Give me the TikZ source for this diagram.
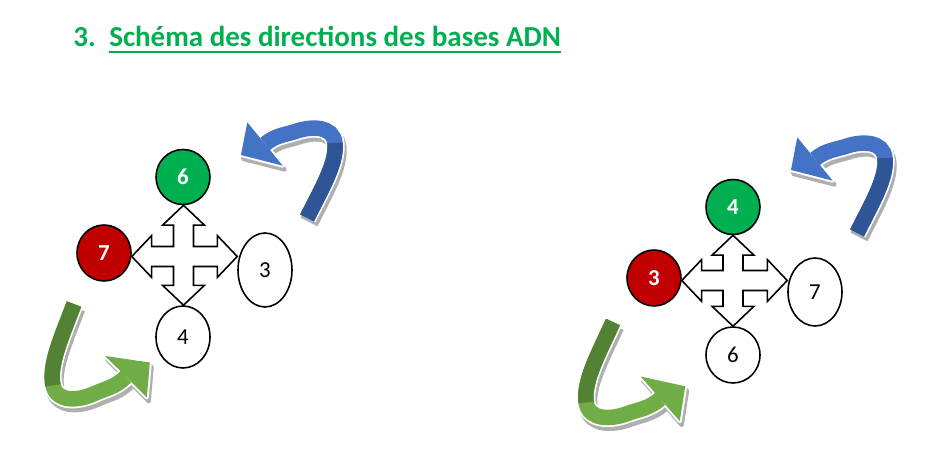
\documentclass[tikz,border=0pt]{standalone}
\usepackage{fontspec}
\setmainfont{Carlito}
\usetikzlibrary{shapes.geometric,calc}

\definecolor{okgreen}{RGB}{0,176,80}
\definecolor{okred}{RGB}{192,0,0}
\definecolor{blueA}{RGB}{68,114,196}
\definecolor{blueB}{RGB}{47,85,151}
\definecolor{greenA}{RGB}{112,173,71}
\definecolor{greenB}{RGB}{84,130,53}
\definecolor{shadowgray}{RGB}{175,175,175}

% sizes of the four-way arrow
\newcommand{\qshaft}{5.7pt}
\newcommand{\qhead}{11.9pt}
\newcommand{\qlen}{11.3pt}

\tikzset{
    bandline/.style={insert path={(0,0) .. controls (15,-30) and (30,-55) .. (28,-75) .. controls (26,-92) and (5,-92) .. (-10,-87) .. controls (-22,-83) and (-31,-83) .. (-42,-74)}},
    bandlow/.style={insert path={(0,0) .. controls (15,-30) and (30,-55) .. (28,-75)}},
    bandhead/.style={insert path={(-24.3,-52.3) -- (-66,-63) -- (-59.7,-95.7) -- cycle}}
}

% curved arrow: tail position, transform, light colour, dark colour
\newcommand{\bentarrow}[4]{%
  \begin{scope}[shift={(#1)}, shift={(2,4)}, #2]
    \draw[shadowgray, line width=0.38cm, bandline];
    \filldraw[shadowgray, line width=0.08cm, line join=round, bandhead];
  \end{scope}
  \begin{scope}[shift={(#1)}, #2]
    \draw[white, line width=0.38cm, bandline];
    \filldraw[white, line width=0.08cm, line join=round, bandhead];
    \draw[#3, line width=0.31cm, bandline];
    \fill[#3, bandhead];
    \draw[#4, line width=0.31cm, bandlow];
  \end{scope}}

% four-way arrow: centre, top, right, bottom, left node
\newcommand{\quadarrow}[5]{%
  \draw[quad] let \p5=(#1), \p1=(#1 |- #2.south), \p2=(#1 -| #3.west),
                  \p3=(#1 |- #4.north), \p4=(#1 -| #5.east) in
    (\x5,\y1) -- (\x5+\qhead,\y1-\qlen) -- (\x5+\qshaft,\y1-\qlen) -- (\x5+\qshaft,\y5+\qshaft)
    -- (\x2-\qlen,\y5+\qshaft) -- (\x2-\qlen,\y5+\qhead) -- (\x2,\y5)
    -- (\x2-\qlen,\y5-\qhead) -- (\x2-\qlen,\y5-\qshaft) -- (\x5+\qshaft,\y5-\qshaft)
    -- (\x5+\qshaft,\y3+\qlen) -- (\x5+\qhead,\y3+\qlen) -- (\x5,\y3)
    -- (\x5-\qhead,\y3+\qlen) -- (\x5-\qshaft,\y3+\qlen) -- (\x5-\qshaft,\y5-\qshaft)
    -- (\x4+\qlen,\y5-\qshaft) -- (\x4+\qlen,\y5-\qhead) -- (\x4,\y5)
    -- (\x4+\qlen,\y5+\qhead) -- (\x4+\qlen,\y5+\qshaft) -- (\x5-\qshaft,\y5+\qshaft)
    -- (\x5-\qshaft,\y1-\qlen) -- (\x5-\qhead,\y1-\qlen) -- cycle;}

\begin{document}
\begin{tikzpicture}[
    x=0.02cm, y=-0.02cm,
    base/.style={ellipse, draw, line width=0.9pt, inner sep=0pt, fill=white, font=\fontsize{13}{15}\selectfont},
    topbase/.style={base, fill=okgreen, text=white, minimum width=1.08cm, minimum height=1.1cm, font=\fontsize{13}{15}\selectfont\bfseries},
    leftbase/.style={base, fill=okred, text=white, minimum width=1.08cm, minimum height=1.12cm, font=\fontsize{13}{15}\selectfont\bfseries},
    quad/.style={draw, fill=white, line width=0.9pt, line join=miter},
    title/.style={anchor=base west, inner sep=0pt, text=okgreen, font=\fontsize{16.5}{19}\selectfont\bfseries}
]
\useasboundingbox (0,0) rectangle (931,452);

% Title
\node[title] (num) at (73,47) {3.};
\node[title] (head) at (109,47) {Schéma des directions des bases ADN};
\draw[okgreen, line width=1.2pt] ([yshift=-3pt]head.base west) -- ([yshift=-3pt]head.base east);

% Curved arrows
\bentarrow{307,218}{rotate=0}{blueA}{blueB}
\bentarrow{857,233}{rotate=0}{blueA}{blueB}
\bentarrow{74,304}{rotate=186, scale=1.05}{greenA}{greenB}
\bentarrow{613,322}{rotate=182, scale=1.06}{greenA}{greenB}

% Left diagram
\node[topbase] (Ltop) at (183,177) {6};
\node[leftbase] (Lleft) at (104,253) {7};
\node[base, minimum width=1.08cm, minimum height=1.48cm] (Lright) at (265,270) {3};
\node[base, minimum width=1.08cm, minimum height=1.24cm] (Lbot) at (183,337) {4};
\coordinate (Lc) at (183.5,256.5);
\quadarrow{Lc}{Ltop}{Lright}{Lbot}{Lleft}

% Right diagram
\node[topbase] (Rtop) at (733,207) {4};
\node[leftbase] (Rleft) at (654,278) {3};
\node[base, minimum width=1.08cm, minimum height=1.36cm] (Rright) at (815,292) {7};
\node[base, minimum width=1.08cm, minimum height=1.12cm] (Rbot) at (733,355) {6};
\coordinate (Rc) at (733,280.5);
\quadarrow{Rc}{Rtop}{Rright}{Rbot}{Rleft}

\end{tikzpicture}
\end{document}
